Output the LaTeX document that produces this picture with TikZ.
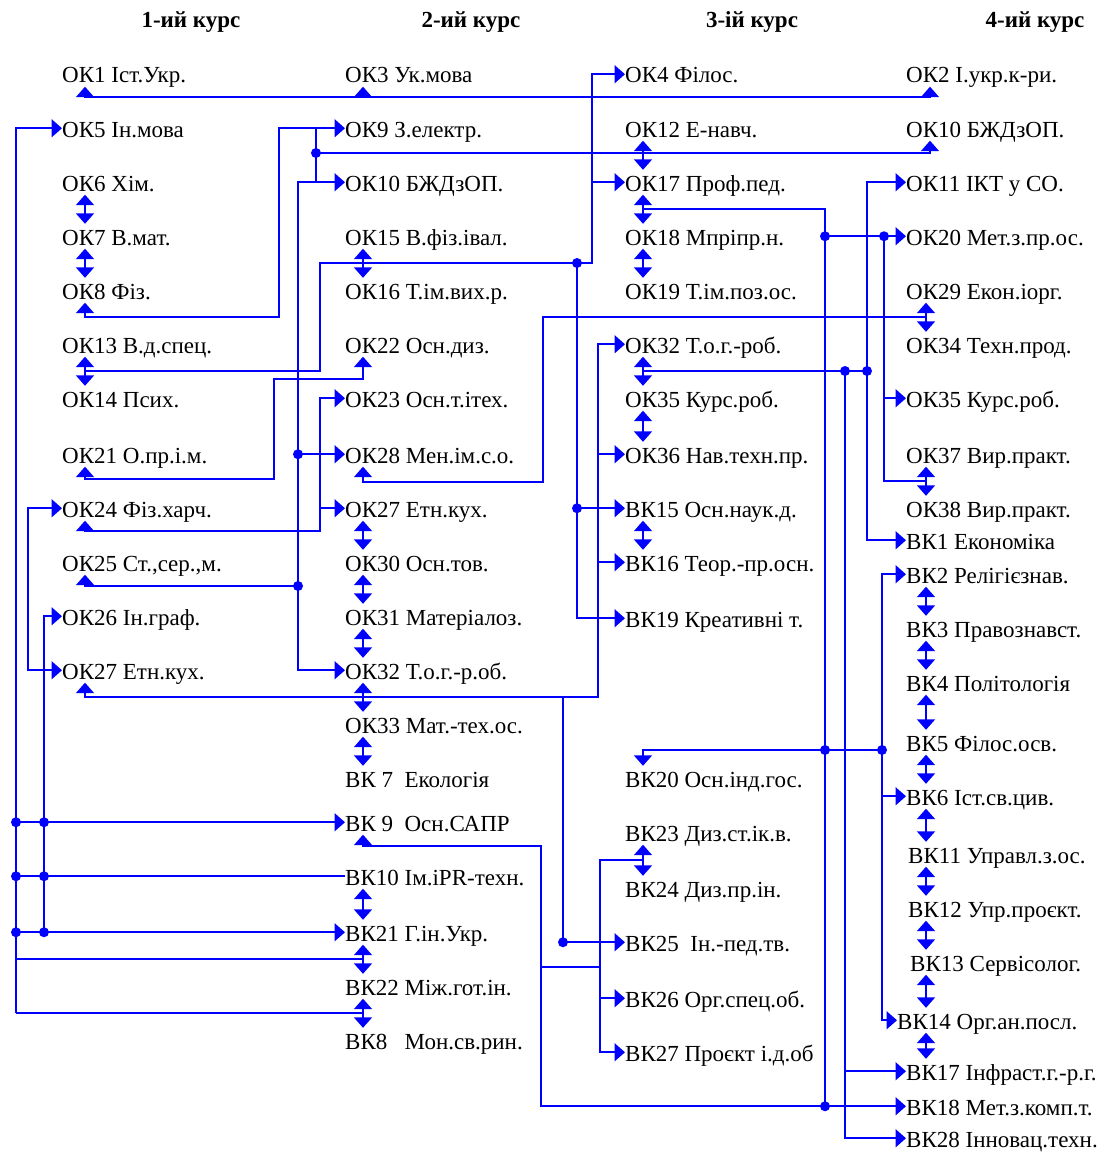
\documentclass[tikz,border=0pt]{standalone}
\usepackage{fontspec}
\setmainfont{Liberation Serif}
\usetikzlibrary{arrows.meta}
\tikzset{
  conn/.style={draw=blue, line width=1.9pt},
  ar/.style={conn, -{Triangle[length=10.5pt,width=18pt]}},
  ra/.style={conn, {Triangle[length=10.5pt,width=18pt]}-},
  br/.style={conn, {Triangle[length=10.5pt,width=18pt]}-{Triangle[length=10.5pt,width=18pt]}},
  lbl/.style={anchor=base west, inner sep=0pt, text height=21pt, text depth=3.5pt, font=\fontsize{23}{27}\selectfont},
  hdr/.style={anchor=base, inner sep=0pt, font=\fontsize{23}{27}\selectfont\bfseries},
}
\newcommand{\jdot}[1]{\fill[blue] #1 circle (5pt);}
\begin{document}
\begin{tikzpicture}[x=1pt,y=-1pt]
\useasboundingbox (0,0) rectangle (1117,1153);
% column port x positions
\coordinate (c1) at (85,0);
\coordinate (c2) at (363,0);
\coordinate (c3) at (643,0);
\coordinate (c4) at (926,0);
\coordinate (c4u) at (930,0);
\foreach \v in {16,28,44,298,316,320,563,577,592,598,600,825,845,867,882,884}{\coordinate (v\v) at (\v,0);}
% headers
\node[hdr] (h1) at (191,28) {1-ий курс};
\node[hdr] (h2) at (471,28) {2-ий курс};
\node[hdr] (h3) at (752,28) {3-ій курс};
\node[hdr] (h4) at (1035,28) {4-ий курс};
% column 1
\node[lbl] (ok1) at (62,83) {ОК1 Іст.Укр.};
\node[lbl] (ok5) at (62,137) {ОК5 Ін.мова};
\node[lbl] (ok6) at (62,191) {ОК6 Хім.};
\node[lbl] (ok7) at (62,245) {ОК7 В.мат.};
\node[lbl] (ok8) at (62,299) {ОК8 Фіз.};
\node[lbl] (ok13) at (62,353) {ОК13 В.д.спец.};
\node[lbl] (ok14) at (62,407) {ОК14 Псих.};
\node[lbl] (ok21) at (62,463) {ОК21 О.пр.і.м.};
\node[lbl] (ok24) at (62,517) {ОК24 Фіз.харч.};
\node[lbl] (ok25) at (62,571) {ОК25 Ст.,сер.,м.};
\node[lbl] (ok26) at (62,625) {ОК26 Ін.граф.};
\node[lbl] (ok27a) at (62,679) {ОК27 Етн.кух.};
% column 2
\node[lbl] (ok3) at (345,83) {ОК3 Ук.мова};
\node[lbl] (ok9) at (345,137) {ОК9 З.електр.};
\node[lbl] (ok10b) at (345,191) {ОК10 БЖДзОП.};
\node[lbl] (ok15) at (345,245) {ОК15 В.фіз.івал.};
\node[lbl] (ok16) at (345,299) {ОК16 Т.ім.вих.р.};
\node[lbl] (ok22) at (345,353) {ОК22 Осн.диз.};
\node[lbl] (ok23) at (345,407) {ОК23 Осн.т.ітех.};
\node[lbl] (ok28) at (345,463) {ОК28 Мен.ім.с.о.};
\node[lbl] (ok27b) at (345,517) {ОК27 Етн.кух.};
\node[lbl] (ok30) at (345,571) {ОК30 Осн.тов.};
\node[lbl] (ok31) at (345,625) {ОК31 Матеріалоз.};
\node[lbl] (ok32b) at (345,679) {ОК32 Т.о.г.-р.об.};
\node[lbl] (ok33) at (345,733) {ОК33 Мат.-тех.ос.};
\node[lbl] (vk7) at (345,787) {ВК 7~~Екологія};
\node[lbl] (vk9) at (345,831) {ВК 9~~Осн.САПР};
\node[lbl] (vk10) at (345,885) {ВК10 Ім.iPR-техн.};
\node[lbl] (vk21) at (345,941) {ВК21 Г.ін.Укр.};
\node[lbl] (vk22) at (345,995) {ВК22 Між.гот.ін.};
\node[lbl] (vk8) at (345,1049) {ВК8~~~Мон.св.рин.};
% column 3
\node[lbl] (ok4) at (625,83) {ОК4 Філос.};
\node[lbl] (ok12) at (625,137) {ОК12 Е-навч.};
\node[lbl] (ok17) at (625,191) {ОК17 Проф.пед.};
\node[lbl] (ok18) at (625,245) {ОК18 Мпріпр.н.};
\node[lbl] (ok19) at (625,299) {ОК19 Т.ім.поз.ос.};
\node[lbl] (ok32c) at (625,353) {ОК32 Т.о.г.-роб.};
\node[lbl] (ok35c) at (625,407) {ОК35 Курс.роб.};
\node[lbl] (ok36) at (625,463) {ОК36 Нав.техн.пр.};
\node[lbl] (vk15) at (625,517) {ВК15 Осн.наук.д.};
\node[lbl] (vk16) at (625,571) {ВК16 Теор.-пр.осн.};
\node[lbl] (vk19) at (625,627) {ВК19 Креативні т.};
\node[lbl] (vk20) at (625,787) {ВК20 Осн.інд.гос.};
\node[lbl] (vk23) at (625,841) {ВК23 Диз.ст.ік.в.};
\node[lbl] (vk24) at (625,897) {ВК24 Диз.пр.ін.};
\node[lbl] (vk25) at (625,951) {ВК25~~Ін.-пед.тв.};
\node[lbl] (vk26) at (625,1007) {ВК26 Орг.спец.об.};
\node[lbl] (vk27) at (625,1061) {ВК27 Проєкт і.д.об};
% column 4
\node[lbl] (ok2) at (906,83) {ОК2 І.укр.к-ри.};
\node[lbl] (ok10d) at (906,137) {ОК10 БЖДзОП.};
\node[lbl] (ok11) at (906,191) {ОК11 ІКТ у СО.};
\node[lbl] (ok20) at (906,245) {ОК20 Мет.з.пр.ос.};
\node[lbl] (ok29) at (906,299) {ОК29 Екон.іорг.};
\node[lbl] (ok34) at (906,353) {ОК34 Техн.прод.};
\node[lbl] (ok35d) at (906,407) {ОК35 Курс.роб.};
\node[lbl] (ok37) at (906,463) {ОК37 Вир.практ.};
\node[lbl] (ok38) at (906,517) {ОК38 Вир.практ.};
\node[lbl] (vk1) at (906,549) {ВК1 Економіка};
\node[lbl] (vk2) at (906,583) {ВК2 Релігієзнав.};
\node[lbl] (vk3) at (906,637) {ВК3 Правознавст.};
\node[lbl] (vk4) at (906,691) {ВК4 Політологія};
\node[lbl] (vk5) at (906,751) {ВК5 Філос.осв.};
\node[lbl] (vk6) at (906,805) {ВК6 Іст.св.цив.};
\node[lbl] (vk11) at (908,863) {ВК11 Управл.з.ос.};
\node[lbl] (vk12) at (908,917) {ВК12 Упр.проєкт.};
\node[lbl] (vk13) at (910,971) {ВК13 Сервісолог.};
\node[lbl] (vk14) at (897,1029) {ВК14 Орг.ан.посл.};
\node[lbl] (vk17) at (906,1080) {ВК17 Інфраст.г.-р.г.};
\node[lbl] (vk18) at (906,1115) {ВК18 Мет.з.комп.т.};
\node[lbl] (vk28) at (906,1147) {ВК28 Інновац.техн.};

% ---- double arrows within columns
\foreach \a/\b in {ok6/ok7,ok7/ok8,ok13/ok14}{\draw[br] (c1|-\a.south) -- (c1|-\b.north);}
\foreach \a/\b in {ok15/ok16,ok27b/ok30,ok30/ok31,ok31/ok32b,ok32b/ok33,ok33/vk7,vk10/vk21,vk21/vk22,vk22/vk8}{\draw[br] (c2|-\a.south) -- (c2|-\b.north);}
\foreach \a/\b in {ok12/ok17,ok17/ok18,ok18/ok19,ok32c/ok35c,ok35c/ok36,vk15/vk16,vk23/vk24}{\draw[br] (c3|-\a.south) -- (c3|-\b.north);}
\foreach \a/\b in {ok29/ok34,ok37/ok38,vk2/vk3,vk3/vk4,vk4/vk5,vk5/vk6,vk6/vk11,vk11/vk12,vk12/vk13,vk13/vk14,vk14/vk17}{\draw[br] (c4|-\a.south) -- (c4|-\b.north);}

% ---- bus under first row
\draw[conn] (85,97) -- (930,97);
\draw[ar] (85,97) -- (c1|-ok1.south);
\draw[ar] (363,97) -- (c2|-ok3.south);
\draw[ar] (930,97) -- (c4u|-ok2.south);

% ---- OK8 -> OK9
\draw[br] (c1|-ok8.south) |- (279,317) |- (ok9.west);
\draw[conn] (v316|-ok9.west) -- (v316|-ok10b.west);
\jdot{(316,153)}
\draw[ar] (316,153) -| (c4u|-ok10d.south);

% ---- OK10(2) / OK28 / OK32(2) trunk
\draw[br] (ok10b.west) -- (v298|-ok10b.west) -- (v298|-ok32b.west) -- (ok32b.west);
\draw[ar] (v298|-ok28.west) -- (ok28.west);
\jdot{(v298|-ok28.west)}
\draw[ra] (c1|-ok25.south) |- (298,586);
\jdot{(298,586)}

% ---- OK13/14 -> OK4, OK17, VK15, VK19
\draw[ar] (85,371) -- (320,371) -- (320,263) -- (592,263) |- (ok4.west);
\draw[ar] (v592|-ok17.west) -- (ok17.west);
\jdot{(577,263)}
\draw[ar] (577,263) |- (vk19.west);
\draw[ar] (v577|-vk15.west) -- (vk15.west);
\jdot{(v577|-vk15.west)}

% ---- OK21 -> OK22
\draw[br] (c1|-ok21.south) |- (274,479) |- (363,379) -- (c2|-ok22.south);

% ---- OK24 -> OK23, OK27(2)
\draw[br] (c1|-ok24.south) |- (320,531) |- (ok23.west);
\draw[ar] (v320|-ok27b.west) -- (ok27b.west);

% ---- bracket OK24 / OK27(1)
\draw[br] (ok24.west) -- (v28|-ok24.west) -- (v28|-ok27a.west) -- (ok27a.west);

% ---- left trunks
\draw[ar] (16,1013) |- (ok5.west);
\draw[ar] (v44|-vk21.west) |- (ok26.west);
\draw[ar] (v16|-vk9.west) -- (vk9.west);
\draw[conn] (v16|-vk10.west) -- (vk10.west);
\draw[ar] (v16|-vk21.west) -- (vk21.west);
\foreach \n in {vk9,vk10,vk21}{\jdot{(v16|-\n.west)}\jdot{(v44|-\n.west)}}
\draw[conn] (16,959) -- (363,959);
\draw[conn] (16,1013) -- (363,1013);

% ---- OK28 -> OK29/34
\draw[ra] (c2|-ok28.south) |- (543,482) |- (926,317);

% ---- OK27(1) bus -> OK32(3), OK36, VK16, VK25
\draw[br] (c1|-ok27a.south) |- (598,697) |- (ok32c.west);
\draw[ar] (v598|-ok36.west) -- (ok36.west);
\draw[ar] (v598|-vk16.west) -- (vk16.west);
\draw[ar] (563,697) |- (vk25.west);
\jdot{(v563|-vk25.west)}

% ---- VK9 -> VK18, VK23/24, VK26, VK27
\draw[br] (c2|-vk9.south) |- (541,846) |- (vk18.west);
\jdot{(v825|-vk18.west)}
\draw[conn] (541,967) -- (600,967);
\draw[ar] (643,860) -- (600,860) |- (vk27.west);
\draw[ar] (v600|-vk26.west) -- (vk26.west);

% ---- OK17/18 trunk
\draw[conn] (643,209) -| (v825|-vk18.west);
\draw[ar] (v825|-ok20.west) -- (ok20.west);
\jdot{(v825|-ok20.west)}
\jdot{(v884|-ok20.west)}
\draw[conn] (v884|-ok20.west) |- (926,481);
\draw[ar] (v884|-ok35d.west) -- (ok35d.west);

% ---- OK32/35(3) trunk
\draw[conn] (643,371) -- (867,371);
\jdot{(845,371)}
\jdot{(867,371)}
\draw[br] (ok11.west) -- (v867|-ok11.west) -- (v867|-vk1.west) -- (vk1.west);
\draw[ar] (845,371) |- (vk28.west);
\draw[ar] (v845|-vk17.west) -- (vk17.west);

% ---- VK20 line and VK2..VK14 trunk
\draw[ar] (882,750) -| (c3|-vk20.north);
\jdot{(825,750)}
\jdot{(882,750)}
\draw[br] (vk2.west) -- (v882|-vk2.west) -- (v882|-vk14.west) -- (vk14.west);
\draw[ar] (v882|-vk6.west) -- (vk6.west);
\end{tikzpicture}
\end{document}
